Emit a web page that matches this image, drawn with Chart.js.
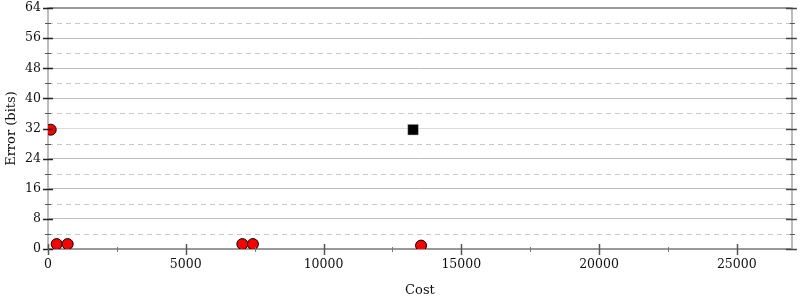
<!DOCTYPE html>
<html>
<head>
<meta charset="utf-8">
<script src="https://cdn.jsdelivr.net/npm/chart.js@4/dist/chart.umd.min.js"></script>
<style>
  html, body { margin: 0; padding: 0; background: #fff; }
  #wrap { width: 800px; height: 300px; }
</style>
</head>
<body>
<div id="wrap"><canvas id="errChart"></canvas></div>
<script>
// ==== data ====
const circleCost  = [98, 315, 714, 7054, 7438, 13540];
const circleError = [31.7, 1.3, 1.3, 1.3, 1.3, 0.9];
const squareCost  = [13250];
const squareError = [31.7];

const xMax = 27000;
const xMajor = [0, 5000, 10000, 15000, 20000, 25000];
const xMinor = [2500, 7500, 12500, 17500, 22500];
const yMajor = [0, 8, 16, 24, 32, 40, 48, 56, 64];
const yMinor = [4, 12, 20, 28, 36, 44, 52, 60];

const fontFamily = "'DejaVu Serif', serif";

// ==== minor dashed grid, clipping, ticks crossing the axes ====
const tickPlugin = {
    id: 'crossTicks',
    beforeDatasetsDraw(chart) {
        const { ctx, chartArea: a, scales: { y } } = chart;
        ctx.save();
        ctx.strokeStyle = '#c8c8c8';
        ctx.lineWidth = 1;
        ctx.setLineDash([5, 4]);
        yMinor.forEach(v => {
            const py = Math.round(y.getPixelForValue(v)) + 0.5;
            ctx.beginPath();
            ctx.moveTo(a.left, py);
            ctx.lineTo(a.right, py);
            ctx.stroke();
        });
        ctx.restore();
        // points are cut at the plot frame like in the reference
        ctx.save();
        ctx.beginPath();
        ctx.rect(a.left, a.top, a.right - a.left, a.bottom - a.top);
        ctx.clip();
    },
    afterDatasetsDraw(chart) {
        chart.ctx.restore();
    },
    afterDraw(chart) {
        const { ctx, chartArea: a, scales: { x, y } } = chart;
        ctx.save();
        const hLine = (py, x0, x1, col, w) => {
            ctx.strokeStyle = col; ctx.lineWidth = w;
            ctx.beginPath(); ctx.moveTo(x0, py); ctx.lineTo(x1, py); ctx.stroke();
        };
        const vLine = (px, y0, y1, col, w) => {
            ctx.strokeStyle = col; ctx.lineWidth = w;
            ctx.beginPath(); ctx.moveTo(px, y0); ctx.lineTo(px, y1); ctx.stroke();
        };
        yMajor.forEach(v => {
            const py = Math.round(y.getPixelForValue(v)) + 0.5;
            hLine(py, a.left - 5, a.left + 5, '#222', 1.5);
            hLine(py, a.right - 6, a.right + 5, '#444', 1.5);
        });
        yMinor.forEach(v => {
            const py = Math.round(y.getPixelForValue(v)) + 0.5;
            hLine(py, a.left - 3, a.left + 3, '#555', 1);
            hLine(py, a.right - 2, a.right + 3, '#555', 1);
        });
        xMajor.forEach(v => {
            const px = Math.round(x.getPixelForValue(v)) + 0.5;
            vLine(px, a.bottom - 5, a.bottom + 6, '#555', 1.5);
        });
        xMinor.forEach(v => {
            const px = Math.round(x.getPixelForValue(v)) + 0.5;
            vLine(px, a.bottom - 2, a.bottom + 3, '#777', 1);
        });
        ctx.restore();
    }
};

const ctx = document.getElementById('errChart').getContext('2d');
new Chart(ctx, {
    type: 'scatter',
    data: {
        datasets: [{
            data: circleCost.map((c, i) => ({ x: c, y: circleError[i] })),
            pointStyle: 'circle',
            pointRadius: 5.5,
            pointBackgroundColor: '#ff0000',
            pointBorderColor: '#000',
            pointBorderWidth: 1
        }, {
            data: squareCost.map((c, i) => ({ x: c, y: squareError[i] })),
            pointStyle: 'rect',
            pointRadius: 7.6,
            pointBackgroundColor: '#000',
            pointBorderColor: '#ddd',
            pointBorderWidth: 0.5
        }]
    },
    options: {
        responsive: true,
        maintainAspectRatio: false,
        animation: false,
        layout: { padding: 0 },
        plugins: {
            legend: { display: false },
            tooltip: { enabled: false }
        },
        scales: {
            x: {
                type: 'linear',
                min: 0,
                max: xMax,
                afterBuildTicks: s => { s.ticks = xMajor.map(v => ({ value: v })); },
                afterFit: s => {
                    s.height = 51;
                    s.paddingLeft = 0;
                    s.paddingRight = 0;
                },
                ticks: {
                    color: '#111',
                    padding: 8,
                    font: { family: fontFamily, size: 12.5 },
                    maxRotation: 0,
                    callback: v => String(v)
                },
                grid: { display: false, drawTicks: false },
                border: { display: true, color: '#999', width: 2 },
                title: {
                    display: true,
                    text: 'Cost',
                    color: '#111',
                    font: { family: fontFamily, size: 13 },
                    padding: { top: 0, bottom: 2 }
                }
            },
            y: {
                type: 'linear',
                position: 'left',
                min: 0,
                max: 64,
                afterBuildTicks: s => { s.ticks = yMajor.map(v => ({ value: v })); },
                afterFit: s => {
                    s.width = 48;
                    s.paddingTop = 7;
                    s.paddingBottom = 0;
                },
                ticks: {
                    color: '#111',
                    padding: 7,
                    font: { family: fontFamily, size: 12.5 }
                },
                grid: {
                    drawTicks: false,
                    color: c => {
                        const v = c.tick && c.tick.value;
                        if (v === 0) return 'rgba(0,0,0,0)';
                        if (v === 64) return '#999';
                        if (v === 32) return '#dcdcdc';
                        return '#bdbdbd';
                    },
                    lineWidth: c => (c.tick && c.tick.value === 64) ? 2 : 1
                },
                border: { display: true, color: '#bdbdbd', width: 2 },
                title: {
                    display: true,
                    text: 'Error (bits)',
                    color: '#111',
                    font: { family: fontFamily, size: 13 },
                    padding: { top: 4, bottom: 0 }
                }
            },
            y2: {
                type: 'linear',
                position: 'right',
                min: 0,
                max: 64,
                afterFit: s => {
                    s.width = 6;
                    s.paddingTop = 7;
                    s.paddingBottom = 0;
                },
                ticks: { display: false },
                grid: { drawOnChartArea: false, drawTicks: false },
                border: { display: true, color: '#bdbdbd', width: 2 }
            }
        }
    },
    plugins: [tickPlugin]
});
</script>
</body>
</html>
